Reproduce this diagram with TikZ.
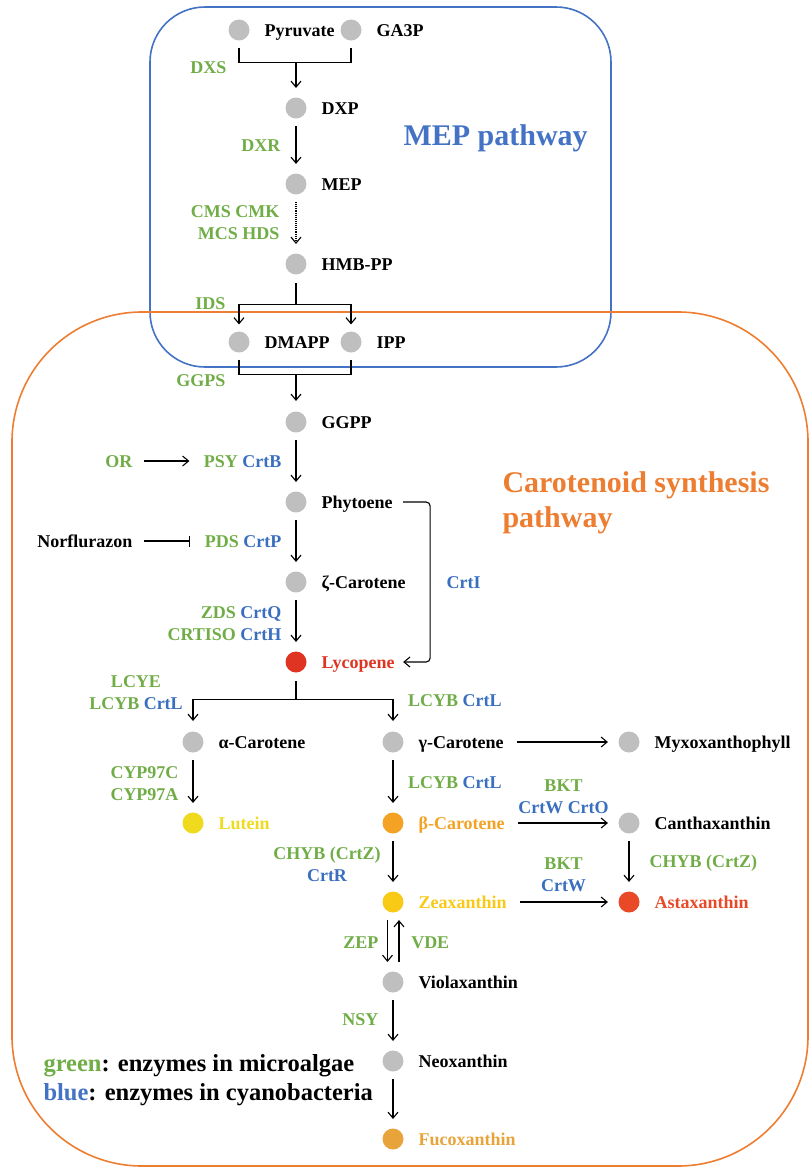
\documentclass[tikz,border=0pt]{standalone}
\usepackage{fontspec}
\setmainfont{Liberation Serif}
\usetikzlibrary{positioning,arrows.meta}
\usepackage{xcolor}
\definecolor{enzgreen}{HTML}{70AD47}
\definecolor{enzblue}{HTML}{3A6FBF}
\definecolor{mepblue}{HTML}{4472C4}
\definecolor{caroorange}{HTML}{ED7D31}
\definecolor{metgray}{HTML}{BFBFBF}
\definecolor{lycored}{HTML}{DF3421}
\definecolor{astared}{HTML}{E84A27}
\definecolor{betaorange}{HTML}{F4A224}
\definecolor{luteinyellow}{HTML}{EFDA1E}
\definecolor{zeayellow}{HTML}{F8C915}
\definecolor{fucoorange}{HTML}{E8A33B}
\newcommand{\enzb}[1]{\textcolor{enzblue}{#1}}

\begin{document}
\begin{tikzpicture}[x=1pt, y=-1pt, line width=1.1pt, >={Straight Barb[length=6pt,width=10pt]},
	met/.style={circle, fill=#1, minimum size=21pt, inner sep=0pt},
	met/.default=metgray,
	lab/.style={font=\fontsize{18}{21.6}\selectfont\bfseries, text height=12pt, text depth=0pt, inner sep=2pt},
	enz/.style={font=\fontsize{18}{22}\selectfont\bfseries, text=enzgreen, inner sep=2pt, align=center},
	enz1/.style={enz, text height=12pt, text depth=0pt},
	rx/.style={->, shorten <=7pt, shorten >=9pt}]
	\useasboundingbox (0,0) rectangle (811,1168);
	% pathway frames
	\draw[mepblue, line width=1.6pt, rounded corners=55pt] (150,7) rectangle (611,367);
	\draw[caroorange, line width=1.6pt, rounded corners=130pt] (12,312) rectangle (808,1166);
	\node[font=\fontsize{30}{36}\selectfont\bfseries, text=mepblue, anchor=base west, inner sep=0pt] (meptitle) at (403,145) {MEP pathway};
	\node[font=\fontsize{30}{35}\selectfont\bfseries, text=caroorange, align=left, anchor=west, inner sep=0pt] (carotitle) at (502,502.5) {Carotenoid synthesis\\pathway};

	% MEP pathway
	\node[met] (pyr) at (239,30) {};
	\node[lab, right=12pt of pyr] (pyrlab) {Pyruvate};
	\node[met] (ga3p) at (351,30) {};
	\node[lab, right=12pt of ga3p] (ga3plab) {GA3P};
	\node[met] (dxp) at (296,108) {};
	\node[lab, right=12pt of dxp] (dxplab) {DXP};
	\node[met] (mep) at (296,184) {};
	\node[lab, right=12pt of mep] (meplab) {MEP};
	\node[met] (hmbpp) at (296,264) {};
	\node[lab, right=12pt of hmbpp] (hmbpplab) {HMB-PP};
	\node[met] (dmapp) at (239,342) {};
	\node[lab, right=12pt of dmapp] (dmapplab) {DMAPP};
	\node[met] (ipp) at (351,342) {};
	\node[lab, right=12pt of ipp] (ipplab) {IPP};

	\node[enz1, anchor=east] (dxs) at (229,67) {DXS};
	\node[enz1, anchor=east] (dxr) at (283,145) {DXR};
	\node[enz, anchor=east, align=right] (cms) at (282,222.5) {CMS CMK\\MCS HDS};
	\node[enz1, anchor=east] (ids) at (228,303) {IDS};
	\node[enz1, anchor=east] (ggps) at (228,380) {GGPS};

	\draw ([yshift=-6.5pt]pyr.south) -- ++(0,15) coordinate (dxsl) -| ([yshift=-6.5pt]ga3p.south);
	\draw[->, shorten >=9pt] (dxsl -| dxp) -- (dxp.north);
	\draw[rx] (dxp) -- (mep);
	\draw[rx, densely dotted] (mep) -- (hmbpp);
	\draw ([yshift=-8pt]hmbpp.south) -- ++(0,21) coordinate (idsj);
	\draw[->, shorten >=6.5pt] (idsj) -| (dmapp.north);
	\draw[->, shorten >=6.5pt] (idsj) -| (ipp.north);
	\draw ([yshift=-6.5pt]dmapp.south) -- ++(0,15) coordinate (ggpsl) -| ([yshift=-6.5pt]ipp.south);

	% carotenoid pathway
	\node[met] (ggpp) at (296,422) {};
	\node[lab, right=12pt of ggpp] (ggpplab) {GGPP};
	\node[met] (phyt) at (296,502) {};
	\node[lab, right=12pt of phyt] (phytlab) {Phytoene};
	\node[met] (zcar) at (296,582) {};
	\node[lab, right=12pt of zcar] (zcarlab) {ζ-Carotene};
	\node[met=lycored] (lyco) at (296,662) {};
	\node[lab, right=12pt of lyco, text=lycored] (lycolab) {Lycopene};
	\node[met] (acar) at (193,742) {};
	\node[lab, right=12pt of acar] (acarlab) {α-Carotene};
	\node[met] (gcar) at (393,742) {};
	\node[lab, right=12pt of gcar] (gcarlab) {γ-Carotene};
	\node[met] (myxo) at (629,742) {};
	\node[lab, right=12pt of myxo] (myxolab) {Myxoxanthophyll};
	\node[met=luteinyellow] (lut) at (193,823) {};
	\node[lab, right=12pt of lut, text=luteinyellow] (lutlab) {Lutein};
	\node[met=betaorange] (bcar) at (393,823) {};
	\node[lab, right=12pt of bcar, text=betaorange] (bcarlab) {β-Carotene};
	\node[met] (canth) at (629,823) {};
	\node[lab, right=12pt of canth] (canthlab) {Canthaxanthin};
	\node[met=zeayellow] (zea) at (393,902) {};
	\node[lab, right=12pt of zea, text=zeayellow] (zealab) {Zeaxanthin};
	\node[met=astared] (asta) at (629,902) {};
	\node[lab, right=12pt of asta, text=astared] (astalab) {Astaxanthin};
	\node[met] (viola) at (393,982) {};
	\node[lab, right=12pt of viola] (violalab) {Violaxanthin};
	\node[met] (neo) at (393,1061) {};
	\node[lab, right=12pt of neo] (neolab) {Neoxanthin};
	\node[met=fucoorange] (fuco) at (393,1139) {};
	\node[lab, right=12pt of fuco, text=fucoorange] (fucolab) {Fucoxanthin};

	\node[enz1, anchor=east] (or) at (135,461) {OR};
	\node[enz1, anchor=east] (psy) at (284,461) {PSY \enzb{CrtB}};
	\node[lab, anchor=east] (norflu) at (135,541) {Norflurazon};
	\node[enz1, anchor=east] (pds) at (284,541) {PDS \enzb{CrtP}};
	\node[enz, anchor=east, align=right] (zds) at (284,623.3) {ZDS \enzb{CrtQ}\\CRTISO \enzb{CrtH}};
	\node[enz1, anchor=west, text=enzblue] (crti) at (444,582) {CrtI};
	\node[enz] (lcye) at (136,692.2) {LCYE\\LCYB \enzb{CrtL}};
	\node[enz1, anchor=west] (lcyb1) at (405.6,700) {LCYB \enzb{CrtL}};
	\node[enz] (cyp) at (144.5,783.3) {CYP97C\\CYP97A};
	\node[enz1, anchor=west] (lcyb2) at (405.6,782.7) {LCYB \enzb{CrtL}};
	\node[enz] (bkt1) at (563.5,797.2) {BKT\\\enzb{CrtW CrtO}};
	\node[enz] (chyb1) at (327,864) {CHYB (CrtZ)\\\enzb{CrtR}};
	\node[enz] (bkt2) at (563.5,874.9) {BKT\\\enzb{CrtW}};
	\node[enz1, anchor=west] (chyb2) at (647,861.7) {CHYB (CrtZ)};
	\node[enz1, anchor=east] (zep) at (381,942.7) {ZEP};
	\node[enz1, anchor=west] (vde) at (408.7,942.7) {VDE};
	\node[enz1, anchor=east] (nsy) at (381,1019) {NSY};

	\draw[->, shorten >=10pt] (ggpsl -| ggpp) -- (ggpp.north);
	\draw[rx] (ggpp) -- (phyt);
	\draw[rx] (phyt) -- (zcar);
	\draw[rx] (zcar) -- (lyco);
	\draw[->, shorten <=9pt, shorten >=12pt] (or.east) -- (psy.west);
	\draw[-{Bar[width=11pt]}, shorten <=9pt, shorten >=12pt] (norflu.east) -- (pds.west);
	\draw[->, rounded corners=4pt, shorten <=8pt, shorten >=6pt] (phytlab.east) -- ++(35,0) |- (lycolab.east);
	\draw ([yshift=-8pt]lyco.south) -- ++(0,18) coordinate (lcyj);
	\draw[->, shorten >=10pt] (lcyj) -| (acar.north);
	\draw[->, shorten >=10pt] (lcyj) -| (gcar.north);
	\draw[->, shorten <=11pt, shorten >=10pt] (gcarlab.east) -- (myxo.west);
	\draw[rx] (acar) -- (lut);
	\draw[rx] (gcar) -- (bcar);
	\draw[->, shorten <=11pt, shorten >=10pt] (bcarlab.east) -- (canth.west);
	\draw[rx] (bcar) -- (zea);
	\draw[rx] (canth) -- (asta);
	\draw[->, shorten <=11pt, shorten >=10pt] (zealab.east) -- (asta.west);
	\draw[->, shorten <=7pt, shorten >=9pt] ([xshift=-5.5pt]zea.south) -- ([xshift=-5.5pt]viola.north);
	\draw[->, shorten <=9pt, shorten >=7pt] ([xshift=6pt]viola.north) -- ([xshift=6pt]zea.south);
	\draw[rx] (viola) -- (neo);
	\draw[rx] (neo) -- (fuco);

	% legend
	\node[font=\fontsize{24.5}{29}\selectfont\bfseries, align=left, anchor=west, inner sep=0pt] (legend) at (43,1080) {\textcolor{enzgreen}{green}: enzymes in microalgae\\\textcolor{mepblue}{blue}: enzymes in cyanobacteria};
\end{tikzpicture}
\end{document}
